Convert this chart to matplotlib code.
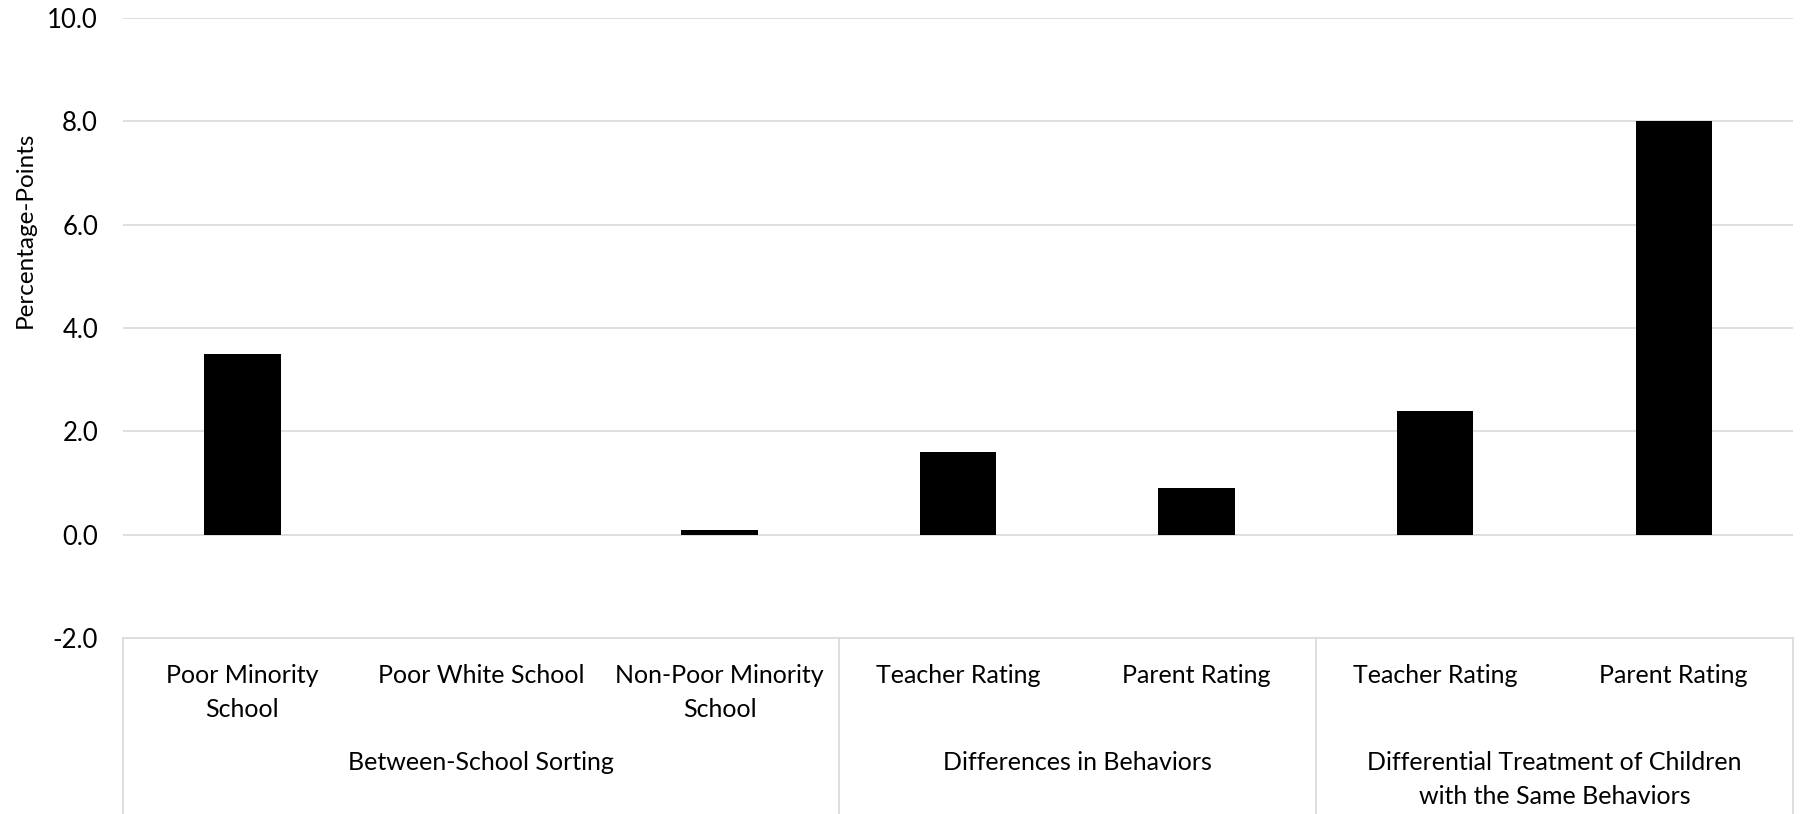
import numpy as np
import matplotlib.pyplot as plt
from matplotlib.transforms import blended_transform_factory

# Data
categories = ['Poor Minority\nSchool', 'Poor White School', 'Non-Poor Minority\nSchool',
              'Teacher Rating', 'Parent Rating', 'Teacher Rating', 'Parent Rating']
values = [3.5, 0.0, 0.1, 1.6, 0.9, 2.4, 8.0]
groups = ['Between-School Sorting', 'Differences in Behaviors',
          'Differential Treatment of Children\nwith the Same Behaviors']
group_sizes = [3, 2, 2]
y_ticks = [-2, 0, 2, 4, 6, 8, 10]

plt.rcParams['font.family'] = ['Lato', 'DejaVu Sans']
grid_col = '#d9d9d9'

fig = plt.figure(figsize=(18.02, 8.14), dpi=100)
ax = fig.add_axes([0.0683, 0.216, 0.9267, 0.762])

x = np.arange(len(values))
ax.bar(x, values, width=0.32, color='black', zorder=3)

ax.set_xlim(-0.5, len(values) - 0.5)
ax.set_ylim(-2, 10)
ax.set_yticks(y_ticks)
ax.set_yticklabels(['%.1f' % v for v in y_ticks], fontsize=18.5)
ax.tick_params(axis='y', length=0, pad=18)
ax.set_xticks([])

# gridlines (not at the bottom, that is the box line)
for v in y_ticks[1:]:
    ax.axhline(v, color=grid_col, linewidth=1.2, zorder=1)

for s in ['top', 'right', 'left']:
    ax.spines[s].set_visible(False)
ax.spines['bottom'].set_color(grid_col)
ax.spines['bottom'].set_linewidth(1.2)

# y label sits above the axes middle, as in the original
fig.text(25 / 1802, 1 - 230 / 814, 'Percentage-Points', rotation=90,
         ha='center', va='center', fontsize=17.5)

# multi-level category axis box
trans = blended_transform_factory(ax.transData, fig.transFigure)
y_top = 0.216
bounds = np.concatenate([[0], np.cumsum(group_sizes)]) - 0.5
for b in bounds:
    ax.plot([b, b], [0, y_top], color=grid_col, linewidth=1.2, transform=trans, clip_on=False)

for i, lab in enumerate(categories):
    ax.text(i, 1 - 664 / 814, lab, transform=trans, ha='center', va='top',
            fontsize=18, linespacing=1.56)

for g, lab in enumerate(groups):
    cx = (bounds[g] + bounds[g + 1]) / 2
    ax.text(cx, 1 - 751 / 814, lab, transform=trans, ha='center', va='top',
            fontsize=18, linespacing=1.56)

fig.savefig('out.png', dpi=100)
